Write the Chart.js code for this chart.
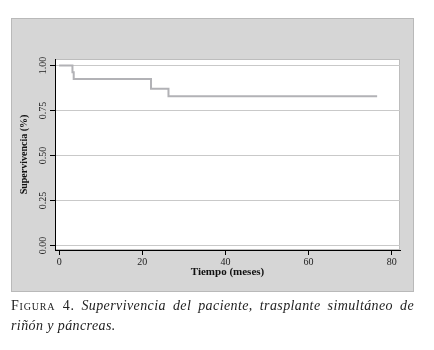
<!DOCTYPE html>
<html>
<head>
<meta charset="utf-8">
<script src="https://cdn.jsdelivr.net/npm/chart.js@4"></script>
<style>
  html, body { margin: 0; padding: 0; background: #fff; width: 434px; height: 350px; overflow: hidden; }
  #panel { position: absolute; left: 11px; top: 18px; width: 401px; height: 272px; background: #d6d6d6; border: 1px solid #b9b9b9; }
  #wrap { position: absolute; left: 0; top: 0; width: 434px; height: 300px; }
  #caption { position: absolute; left: 11px; top: 296px; width: 403px; font-family: "Liberation Serif", "DejaVu Serif", serif; font-size: 14px; line-height: 20px; text-align: justify; text-align-last: left; color: #222; }
  .sc { font-variant: small-caps; letter-spacing: 0.8px; }
  .it { font-style: italic; letter-spacing: 0.4px; }
</style>
</head>
<body>
<div id="panel"></div>
<div id="wrap"><canvas id="c" width="434" height="300"></canvas></div>
<div id="caption"><span class="sc">Figura 4.</span> <span class="it">Supervivencia del paciente, trasplante simultáneo de riñón y páncreas.</span></div>
<script>
// Data (Kaplan-Meier step curve)
const timeMonths = [0, 3.2, 3.5, 22.1, 26.3, 76.5];
const survival   = [1.0, 0.962, 0.925, 0.871, 0.829, 0.829];
const xTickValues = [0, 20, 40, 60, 80];
const yTickValues = [0, 0.25, 0.5, 0.75, 1.0];
const xTitle = 'Tiempo (meses)';
const yTitle = 'Supervivencia (%)';

const points = timeMonths.map((t, i) => ({ x: t, y: survival[i] }));

const plotBg = {
  id: 'plotBg',
  beforeDraw(chart) {
    const { ctx, chartArea: a } = chart;
    ctx.save();
    ctx.fillStyle = '#ffffff';
    ctx.fillRect(a.left, a.top, a.right - a.left, a.bottom - a.top);
    ctx.strokeStyle = '#bdbdbd';
    ctx.lineWidth = 1;
    ctx.strokeRect(a.left + 0.5, a.top + 0.5, a.right - a.left - 1, a.bottom - a.top - 1);
    ctx.restore();
  }
};

const serif = '"Liberation Serif", "Times New Roman", serif';

new Chart(document.getElementById('c'), {
  type: 'line',
  data: {
    datasets: [{
      data: points,
      stepped: 'before',
      borderColor: '#b2b2b6',
      borderWidth: 2,
      pointRadius: 0,
      fill: false
    }]
  },
  options: {
    responsive: false,
    animation: false,
    layout: { padding: { left: 15, top: 59, right: 34, bottom: 10 } },
    plugins: { legend: { display: false }, tooltip: { enabled: false } },
    scales: {
      x: {
        type: 'linear',
        min: -1,
        max: 82,
        afterBuildTicks: s => { s.ticks = xTickValues.map(v => ({ value: v })); },
        afterFit: s => { s.height = 40; },
        grid: { drawOnChartArea: false, tickLength: 5, tickColor: '#000' },
        border: { color: '#000', width: 1 },
        ticks: { font: { family: serif, size: 10 }, color: '#222', padding: 1, maxRotation: 0 },
        title: { display: true, text: xTitle, font: { family: serif, size: 11, weight: 'bold' }, color: '#111', padding: { top: 0, bottom: 11 } }
      },
      y: {
        type: 'linear',
        min: -0.025,
        max: 1.036,
        afterBuildTicks: s => { s.ticks = yTickValues.map(v => ({ value: v })); },
        afterFit: s => { s.width = 40; },
        grid: { color: '#c9c9c9', lineWidth: 1, tickLength: 5, tickColor: '#000' },
        border: { color: '#000', width: 1 },
        ticks: {
          font: { family: serif, size: 10 },
          color: '#222',
          padding: -2,
          minRotation: 90,
          maxRotation: 90,
          crossAlign: 'center',
          callback: v => Number(v).toFixed(2)
        },
        title: { display: true, text: yTitle, font: { family: serif, size: 10, weight: 'bold' }, color: '#111', padding: { top: 3, bottom: 0 } }
      }
    }
  },
  plugins: [plotBg]
});
</script>
</body>
</html>
